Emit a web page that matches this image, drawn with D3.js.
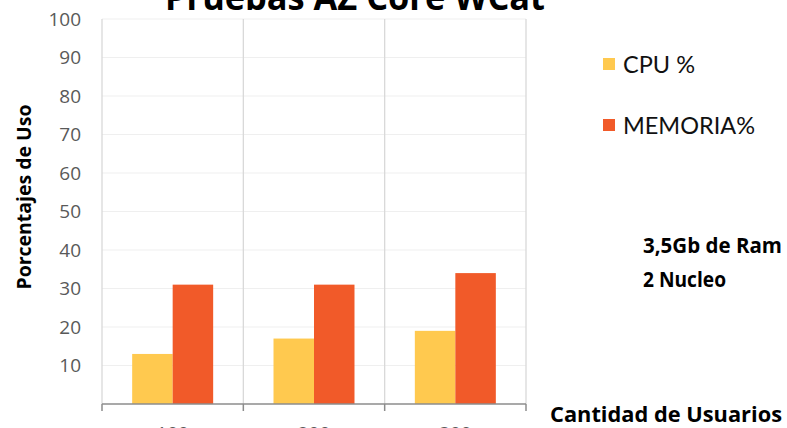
<!DOCTYPE html>
<html>
<head>
<meta charset="utf-8">
<script src="https://cdn.jsdelivr.net/npm/d3@7"></script>
<style>
  body { margin: 0; background: #fff; }
  svg { display: block; }
</style>
</head>
<body>
<svg id="chart" width="787" height="428"></svg>
<script>
const usuarios = ["100", "200", "300"];
const series = ["CPU %", "MEMORIA%"];
const cpu = [13, 17, 19];
const memoria = [31, 31, 34];
const yTicks = [10, 20, 30, 40, 50, 60, 70, 80, 90, 100];
const notas = ["3,5Gb de Ram", "2 Nucleo"];

const colors = { "CPU %": "#ffc94f", "MEMORIA%": "#f15a29" };
const bold = "'Open Sans', sans-serif";

const svg = d3.select("#chart");

const x = d3.scaleBand().domain(usuarios).range([102, 526]).paddingInner(0).paddingOuter(0);
const xs = d3.scaleBand().domain(series).range([0, x.bandwidth()]).paddingInner(0).paddingOuter(0.745);
const y = d3.scaleLinear().domain([0, 100]).range([404, 19]);

// horizontal gridlines
svg.append("g")
  .selectAll("line")
  .data(yTicks)
  .join("line")
  .attr("x1", x.range()[0])
  .attr("x2", x.range()[1])
  .attr("y1", (d) => y(d))
  .attr("y2", (d) => y(d))
  .attr("stroke", "#efefef")
  .attr("stroke-width", 1);

// vertical dividers between categories
const edges = usuarios.map((u) => x(u)).concat([x.range()[1]]);
svg.append("g")
  .selectAll("line")
  .data(edges)
  .join("line")
  .attr("x1", (d) => d)
  .attr("x2", (d) => d)
  .attr("y1", y(100))
  .attr("y2", y(0))
  .attr("stroke", "#d9d9d9")
  .attr("stroke-width", 1.3);

// bars
const rows = usuarios.map((u, i) => ({ u, vals: [cpu[i], memoria[i]] }));
const groups = svg.append("g")
  .selectAll("g")
  .data(rows)
  .join("g")
  .attr("transform", (d) => `translate(${x(d.u)},0)`);

groups.selectAll("rect")
  .data((d) => series.map((s, j) => ({ s, v: d.vals[j] })))
  .join("rect")
  .attr("x", (d) => xs(d.s))
  .attr("width", xs.bandwidth())
  .attr("y", (d) => y(d.v))
  .attr("height", (d) => y(0) - y(d.v))
  .attr("fill", (d) => colors[d.s]);

// x axis (baseline + ticks)
const xAxis = svg.append("g").attr("transform", `translate(0,${y(0)})`);
xAxis.append("line")
  .attr("x1", x.range()[0])
  .attr("x2", x.range()[1])
  .attr("stroke", "#8c8c8c")
  .attr("stroke-width", 1.5);
xAxis.selectAll("line.tick")
  .data(edges)
  .join("line")
  .attr("class", "tick")
  .attr("x1", (d) => d)
  .attr("x2", (d) => d)
  .attr("y1", 0)
  .attr("y2", 7)
  .attr("stroke", "#8c8c8c")
  .attr("stroke-width", 1.5);
// category labels sit mostly below the picture's edge, as in the original
xAxis.selectAll("text")
  .data(usuarios)
  .join("text")
  .attr("x", (d) => x(d) + x.bandwidth() / 2)
  .attr("y", 36)
  .attr("text-anchor", "middle")
  .attr("font-family", "'Open Sans', sans-serif")
  .attr("font-size", 19)
  .attr("fill", "#595959")
  .text((d) => d);

// y tick labels
svg.append("g")
  .selectAll("text")
  .data(yTicks)
  .join("text")
  .attr("x", 81)
  .attr("y", (d) => y(d))
  .attr("dy", "0.35em")
  .attr("text-anchor", "end")
  .attr("font-family", "'Open Sans', sans-serif")
  .attr("font-size", 19)
  .attr("fill", "#595959")
  .text((d) => d);

// title (cut at the top in the original)
svg.append("text")
  .attr("x", 165)
  .attr("y", 10)
  .attr("font-family", bold)
  .attr("font-weight", 700)
  .attr("font-size", 36)
  .attr("textLength", 380)
  .attr("lengthAdjust", "spacingAndGlyphs")
  .attr("fill", "#000")
  .text("Pruebas AZ Core WCat");

// axis titles
svg.append("text")
  .attr("transform", "translate(31,197) rotate(-90)")
  .attr("text-anchor", "middle")
  .attr("font-family", bold)
  .attr("font-weight", 700)
  .attr("font-size", 20)
  .attr("textLength", 185)
  .attr("lengthAdjust", "spacingAndGlyphs")
  .text("Porcentajes de Uso");

svg.append("text")
  .attr("x", 550)
  .attr("y", 422)
  .attr("font-family", bold)
  .attr("font-weight", 700)
  .attr("font-size", 21)
  .attr("textLength", 232)
  .attr("lengthAdjust", "spacingAndGlyphs")
  .text("Cantidad de Usuarios");

// legend
const legendY = [64, 125];
const legendW = [72, 132];
const legend = svg.append("g")
  .selectAll("g")
  .data(series)
  .join("g")
  .attr("transform", (d, i) => `translate(603,${legendY[i]})`);
legend.append("rect")
  .attr("x", 0)
  .attr("y", -6)
  .attr("width", 12)
  .attr("height", 12)
  .attr("fill", (d) => colors[d]);
legend.append("text")
  .attr("x", 20)
  .attr("y", 9)
  .attr("font-family", "Lato, sans-serif")
  .attr("font-weight", 400)
  .attr("font-size", 23)
  .attr("textLength", (d, i) => legendW[i])
  .attr("lengthAdjust", "spacingAndGlyphs")
  .attr("fill", "#111")
  .text((d) => d);

// notes
const notaY = [253, 287];
const notaW = [139, 83];
svg.append("g")
  .selectAll("text")
  .data(notas)
  .join("text")
  .attr("x", 643)
  .attr("y", (d, i) => notaY[i])
  .attr("font-family", bold)
  .attr("font-weight", 700)
  .attr("font-size", 21)
  .attr("textLength", (d, i) => notaW[i])
  .attr("lengthAdjust", "spacingAndGlyphs")
  .text((d) => d);
</script>
</body>
</html>
